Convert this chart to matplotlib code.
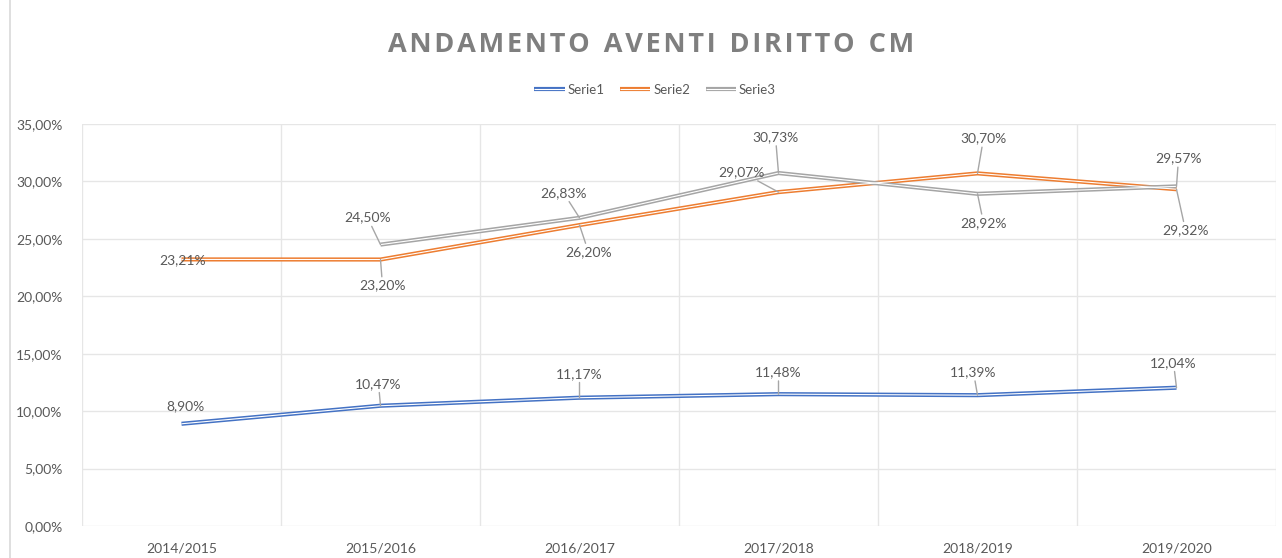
import matplotlib.pyplot as plt
import matplotlib.lines as mlines
from matplotlib.legend_handler import HandlerTuple
from matplotlib.ticker import FuncFormatter, FixedLocator
import numpy as np

# Data
categories = ['2014/2015', '2015/2016', '2016/2017', '2017/2018', '2018/2019', '2019/2020']
serie1 = [8.90, 10.47, 11.17, 11.48, 11.39, 12.04]
serie2 = [23.21, 23.20, 26.20, 29.07, 30.70, 29.32]
serie3 = [np.nan, 24.50, 26.83, 30.73, 28.92, 29.57]

# Label offsets in pixels (dx, dy) from the point
off1 = [(4, 18), (-2, 22), (0, 24), (0, 22), (-4, 23), (-3, 25)]
off2 = [(1, -1), (2, -26), (9, -27), (-37, 20), (6, 35), (9, -41)]
off3 = [None, (-13, 27), (-16, 25), (-3, 36), (6, -29), (2, 28)]

colors = ['#4472C4', '#ED7D31', '#A5A5A5']
text_col = '#595959'
grid_col = '#E6E6E6'

plt.rcParams['font.family'] = ['Lato', 'DejaVu Sans']

fig = plt.figure(figsize=(12.82, 5.58), dpi=100)
ax = fig.add_axes([82 / 1282, 1 - 526 / 558, 1194 / 1282, 402 / 558])

x = np.arange(len(categories))
handles = []
for vals, col in zip([serie1, serie2, serie3], colors):
    outer, = ax.plot(x, vals, color=col, lw=3.0, solid_capstyle='butt', zorder=3)
    inner, = ax.plot(x, vals, color='white', lw=0.8, solid_capstyle='butt', zorder=4)
    handles.append((outer, inner))

# data labels
def fmt(v):
    return f'{v:.2f}'.replace('.', ',') + '%'

for vals, offs in zip([serie1, serie2, serie3], [off1, off2, off3]):
    for i, (v, o) in enumerate(zip(vals, offs)):
        if o is None or np.isnan(v):
            continue
        ap = dict(arrowstyle='-', color='#A6A6A6', lw=1.0, shrinkA=0, shrinkB=0)
        if np.hypot(*o) < 20:
            ap = None
        ax.annotate(fmt(v), (x[i], v), xytext=o, textcoords='offset pixels',
                    ha='center', va='center', fontsize=10, color=text_col,
                    arrowprops=ap, zorder=5)

ax.set_xlim(-0.5, len(categories) - 0.5)
ax.set_ylim(0, 35)
ax.set_xticks(x)
ax.set_xticklabels(categories)
ax.set_yticks(np.arange(0, 36, 5))
ax.yaxis.set_major_formatter(FuncFormatter(lambda v, p: fmt(v)))
ax.xaxis.set_minor_locator(FixedLocator(np.arange(-0.5, len(categories), 1)))
ax.grid(axis='y', which='major', color=grid_col, lw=1)
ax.grid(axis='x', which='minor', color=grid_col, lw=1)
ax.tick_params(axis='both', which='both', length=0, labelsize=10, labelcolor=text_col)
ax.tick_params(axis='x', pad=12)
ax.tick_params(axis='y', pad=14)
for s in ax.spines.values():
    s.set_visible(False)
ax.set_axisbelow(True)

# chart border at left
fig.add_artist(mlines.Line2D([10 / 1282, 10 / 1282], [0, 1], color='#D9D9D9', lw=1.2))

# letter-spaced title
title = 'ANDAMENTO AVENTI DIRITTO CM'
spaced = '  '.join('\u200a'.join(w) for w in title.split(' '))
fig.text(651 / 1282, 1 - 45 / 558, spaced,
         ha='center', va='center', fontsize=19.5, fontweight='bold', color='#7F7F7F',
         family=['Open Sans', 'DejaVu Sans'])

fig.legend(handles, ['Serie1', 'Serie2', 'Serie3'], loc='center',
           bbox_to_anchor=(655 / 1282, 1 - 90 / 558), ncol=3, frameon=False,
           handler_map={tuple: HandlerTuple(ndivide=1)}, fontsize=9.5,
           labelcolor=text_col, handlelength=2.3, handletextpad=0.2, columnspacing=1.2)

fig.savefig('out.png', dpi=100, facecolor='white')
